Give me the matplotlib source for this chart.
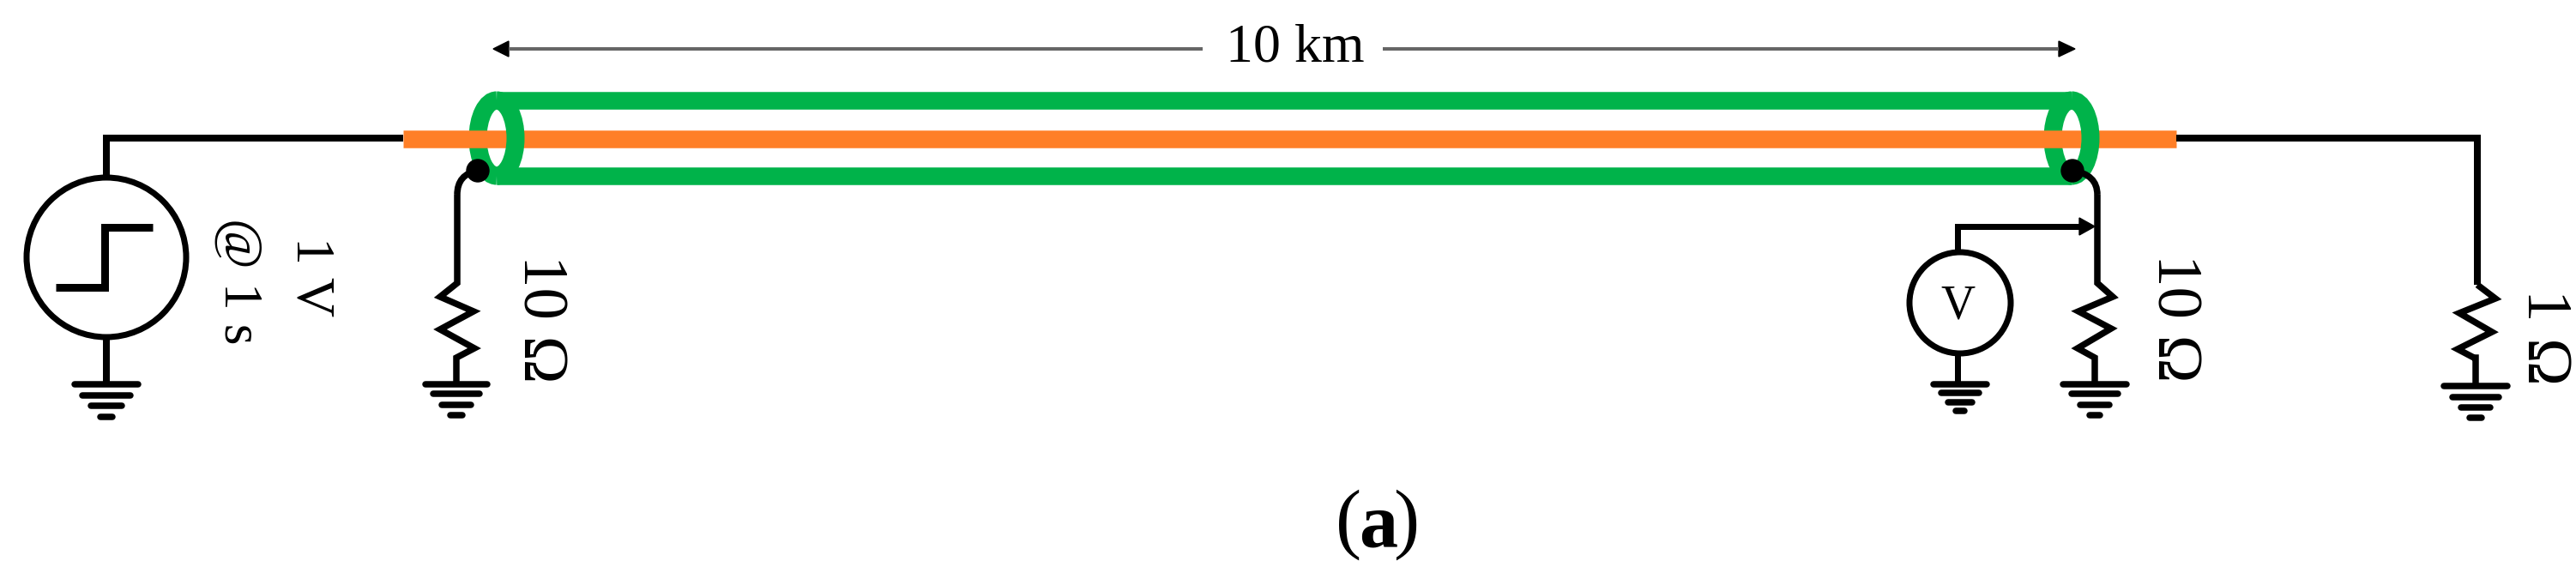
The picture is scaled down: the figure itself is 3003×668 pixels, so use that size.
#!/usr/bin/env python

"""
Schematic of a 10 km coaxial line with a step source, drawn on a pixel-sized axes.
"""

import matplotlib
matplotlib.use("Agg")
import matplotlib.pyplot as plt
from matplotlib.patches import Arc, Circle, PathPatch
from matplotlib.path import Path

WIDTH, HEIGHT = 3003, 668
DPI = 100
GREEN = "#00B34A"
ORANGE = "#FF7F27"

# values, in image pixels
source_center = (124, 300)
source_radius = 93
step_x = [65, 122, 122, 178]
step_y = [335, 335, 265, 265]
meter_center = (2285, 353)
meter_radius = 59

cable_x = [579, 2415]
shield_y = [117, 205]
core_y = 162
core_x = [470, 2537]
ring_height = 88
ring_width = 44

left_wire_x = [124, 124, 470]
left_wire_y = [205, 161, 161]
right_wire_x = [2537, 2888, 2888]
right_wire_y = [161, 161, 332]
probe_x = [2282, 2282, 2428]
probe_y = [292, 264, 264]

res_left_x = [533, 533, 513, 552, 513, 553, 532, 532]
res_left_y = [227, 330, 346, 363, 384, 406, 417, 448]
res_mid_x = [2445, 2445, 2463, 2423, 2461, 2422, 2442, 2442]
res_mid_y = [227, 330, 346, 363, 383, 406, 417, 448]
res_right_x = [2888, 2909, 2867, 2905, 2865, 2884, 2886, 2886]
res_right_y = [332, 348, 365, 387, 407, 417, 417, 450]

# x centre, half widths and y of the bars of each ground symbol
ground_x = [124, 532, 2285, 2442, 2886]
ground_half = [[40, 31, 21, 10], [39, 30, 20, 10], [34, 25, 17, 8], [40, 30, 20, 9], [40, 30, 20, 10]]
ground_y = [[448, 461, 473, 486], [448, 459, 472, 484], [448, 458, 469, 479],
            [448, 459, 472, 484], [450, 463, 475, 487]]

dim_y = 57
dim_left = [593, 1402]
dim_right = [1612, 2400]


def px(width):
    return width * 72 / DPI


def wire(ax, xs, ys, lw=7.5, zorder=5):
    ax.plot(xs, ys, color="black", lw=px(lw), solid_joinstyle="miter",
            solid_capstyle="butt", zorder=zorder)


def ground(ax, x, halves, ys):
    for half, y in zip(halves, ys):
        ax.plot([x - half + 3, x + half - 3], [y, y], color="black", lw=px(7.5),
                solid_capstyle="round", zorder=5)


def draw_cable(ax):
    for y in shield_y:
        ax.plot(cable_x, [y, y], color=GREEN, lw=px(20.5), solid_capstyle="butt", zorder=2)
    ax.plot(core_x, [core_y, core_y], color=ORANGE, lw=px(20.5), solid_capstyle="butt", zorder=3)
    for x in cable_x:
        # the near half of each ring passes in front of the core, the far half behind it
        ax.add_patch(Arc((x, 161), ring_width, ring_height, theta1=90, theta2=270,
                         color=GREEN, lw=px(21), zorder=2))
        ax.add_patch(Arc((x, 161), ring_width, ring_height, theta1=-90, theta2=90,
                         color=GREEN, lw=px(21), zorder=4))


def draw_tap(ax, dot, corner):
    # short bend from the shield dot into the resistor lead
    path = Path([dot, (corner[0], dot[1] + 4), corner], [Path.MOVETO, Path.CURVE3, Path.CURVE3])
    ax.add_patch(PathPatch(path, fc="none", ec="black", lw=px(7.5), zorder=5))
    ax.add_patch(Circle(dot, 13, color="black", zorder=6))


def label(ax, x, y, text, size, rotation=0, weight="normal"):
    ax.text(x, y, text, fontsize=size, rotation=rotation, ha="center", va="center",
            family="Liberation Serif", weight=weight, color="black", zorder=7)


def main():
    fig = plt.figure(figsize=(WIDTH / DPI, HEIGHT / DPI), dpi=DPI)
    ax = fig.add_axes([0, 0, 1, 1])
    ax.set_xlim(0, WIDTH)
    ax.set_ylim(HEIGHT, 0)
    ax.axis("off")

    draw_cable(ax)

    wire(ax, left_wire_x, left_wire_y, lw=8)
    wire(ax, right_wire_x, right_wire_y, lw=8)
    wire(ax, [124, 124], [395, 448], lw=8)
    wire(ax, [2282, 2282], [414, 448], lw=7)
    wire(ax, probe_x, probe_y, lw=7)

    ax.add_patch(Circle(source_center, source_radius, fc="white", ec="black", lw=px(7), zorder=5))
    ax.add_patch(Circle(meter_center, meter_radius, fc="white", ec="black", lw=px(7), zorder=5))
    wire(ax, step_x, step_y, lw=9)

    wire(ax, res_left_x, res_left_y)
    wire(ax, res_mid_x, res_mid_y)
    wire(ax, res_right_x, res_right_y)
    draw_tap(ax, (557, 199), (533, 227))
    draw_tap(ax, (2416, 199), (2445, 227))

    ax.fill([2424, 2442, 2424], [254, 264, 274], color="black", zorder=5)

    for x, halves, ys in zip(ground_x, ground_half, ground_y):
        ground(ax, x, halves, ys)

    # dimension line
    ax.plot(dim_left, [dim_y, dim_y], color="#666666", lw=px(4), solid_capstyle="butt")
    ax.plot(dim_right, [dim_y, dim_y], color="#666666", lw=px(4), solid_capstyle="butt")
    ax.fill([575, 593, 593], [dim_y, dim_y - 9, dim_y + 9], color="black")
    ax.fill([2419, 2400, 2400], [dim_y, dim_y - 9, dim_y + 9], color="black")

    label(ax, 1510, 57, "10 km", 46)
    label(ax, 362, 323, "1 V", 46, rotation=-90)
    label(ax, 277, 328, "@ 1 s", 46, rotation=-90)
    label(ax, 628, 372, "10 Ω", 54, rotation=-90)
    label(ax, 2533, 371, "10 Ω", 54, rotation=-90)
    label(ax, 2965, 393, "1 Ω", 54, rotation=-90)
    label(ax, 2282, 358, "V", 40)

    label(ax, 1572, 612, "(", 65)
    label(ax, 1607, 616, "a", 65, weight="bold")
    label(ax, 1639, 612, ")", 65)

    fig.savefig("out.png", dpi=DPI, facecolor="white")


if __name__ == "__main__":
    main()
